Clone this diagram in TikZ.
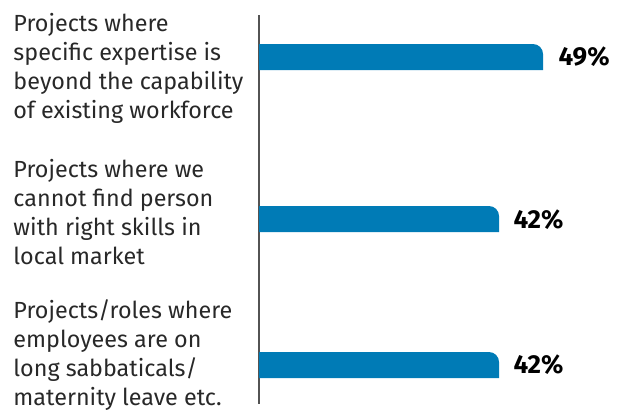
\documentclass[tikz,border=0pt]{standalone}
\usepackage{fontspec}
\setmainfont{Fira Sans}
\definecolor{barblue}{RGB}{0,123,182}
\definecolor{txtgray}{RGB}{40,40,40}

\tikzset{every picture/.style={line width=0.75pt}}
\tikzset{
  lbl/.style={anchor=base west, inner sep=0pt, align=left, text=txtgray, font=\fontsize{17.5}{21.6}\selectfont},
  pct/.style={anchor=west, inner sep=0pt, text=black, font=\fontsize{19.5}{22}\selectfont\bfseries},
  bar/.style={fill=barblue, draw=none}
}

\begin{document}
\begin{tikzpicture}[x=0.75pt,y=0.75pt,yscale=-1,xscale=1]
	\useasboundingbox (0,0) rectangle (630,412);
	
	%Straight Lines [id:axis] 
	\draw [color=txtgray!80, line width=1.5]   (259,15) -- (259,404) ;
	%Shape: Bar [id:bar1] 
	\fill [bar]  (259,70) -- (259,44) -- (533,44) arc (-90:0:10) -- (543,70) -- cycle ;
	%Shape: Bar [id:bar2] 
	\fill [bar]  (259,232) -- (259,206) -- (489,206) arc (-90:0:10) -- (499,232) -- cycle ;
	%Shape: Bar [id:bar3] 
	\fill [bar]  (259,378) -- (259,352) -- (489,352) arc (-90:0:10) -- (499,378) -- cycle ;
	
	% Text Node (base = last line)
	\node [lbl] (q1) at (13,118) {Projects where\\specific expertise is\\beyond the capability\\of existing workforce};
	% Text Node
	\node [lbl] (q2) at (13,264) {Projects where we\\cannot find person\\with right skills in\\local market};
	% Text Node
	\node [lbl] (q3) at (13,405) {Projects/roles where\\employees are on\\long sabbaticals/\\maternity leave etc.};
	% Text Node
	\node [pct] (p1) at (558,57) {49\%};
	% Text Node
	\node [pct] (p2) at (513,220) {42\%};
	% Text Node
	\node [pct] (p3) at (513,365) {42\%};
	
\end{tikzpicture}
\end{document}
